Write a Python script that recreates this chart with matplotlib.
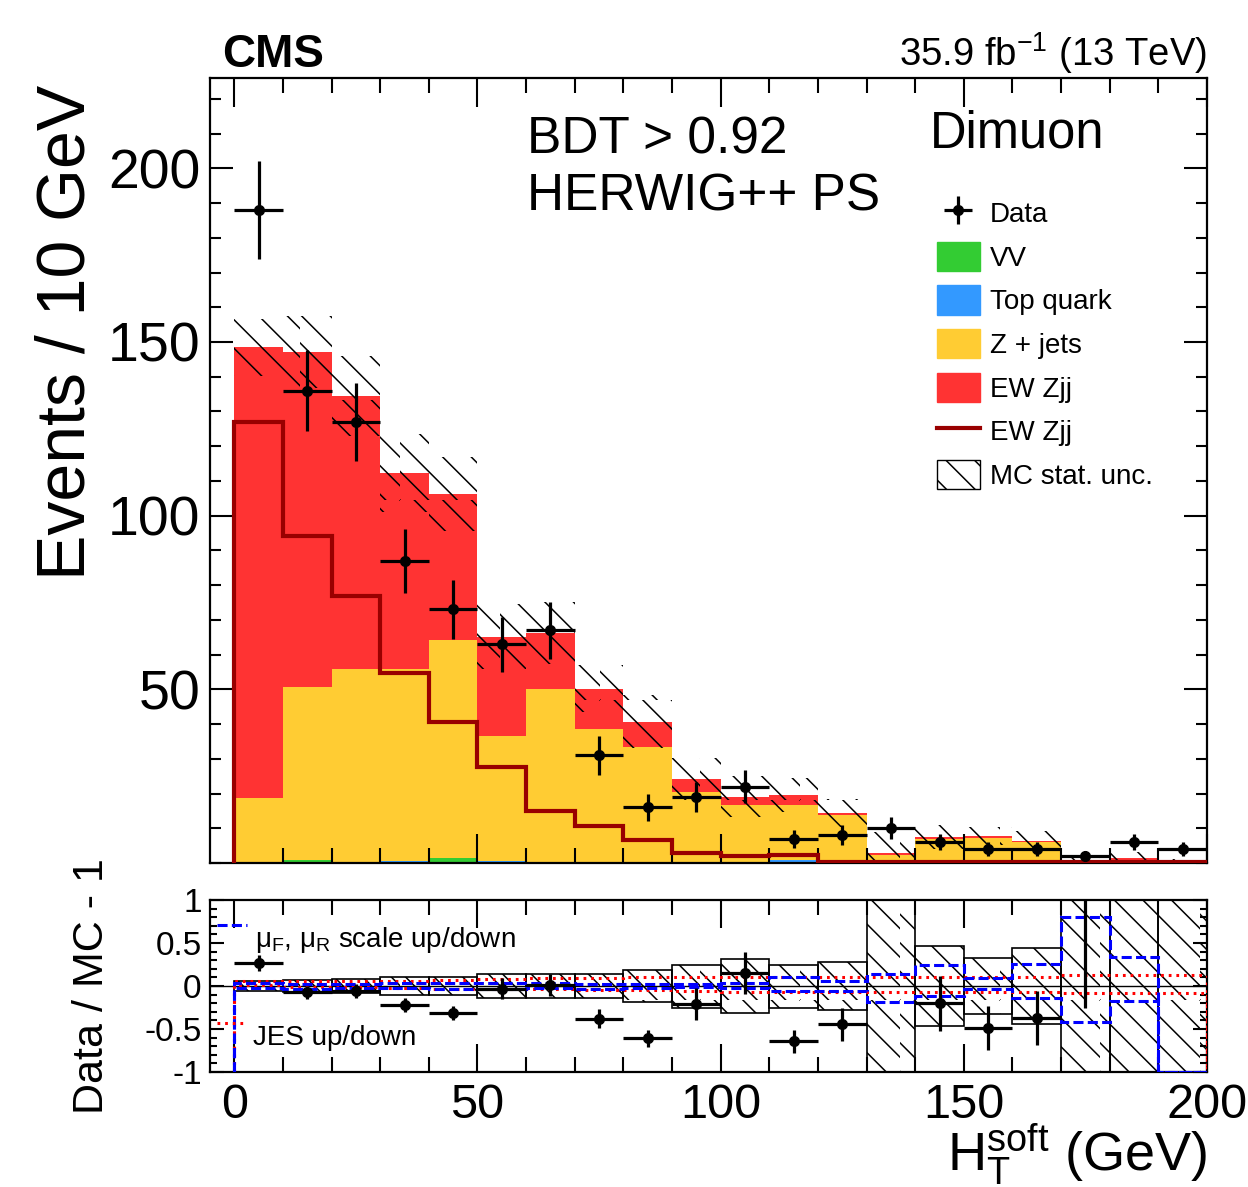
import numpy as np
import matplotlib
matplotlib.use("Agg")
import matplotlib.pyplot as plt
from matplotlib.patches import Patch
from matplotlib.lines import Line2D
from matplotlib.ticker import MultipleLocator
from matplotlib.backend_bases import GraphicsContextBase
from matplotlib import hatch as mhatch

plt.rcParams['font.family'] = ['Liberation Sans', 'DejaVu Sans']
plt.rcParams['mathtext.fontset'] = 'custom'
plt.rcParams['mathtext.rm'] = 'Liberation Sans'
plt.rcParams['mathtext.it'] = 'Liberation Sans:italic'
plt.rcParams['mathtext.bf'] = 'Liberation Sans:bold'
plt.rcParams['hatch.linewidth'] = 1.1


# denser hatch lines (about 14 px apart, like the reference)
def _hatch_path(self, density=7.0):
    h = self.get_hatch()
    if h is None:
        return None
    return mhatch.get_path(h, density)


GraphicsContextBase.get_hatch_path = _hatch_path

# ---------------- data ----------------
bin_edges = [0, 10, 20, 30, 40, 50, 60, 70, 80, 90, 100,
             110, 120, 130, 140, 150, 160, 170, 180, 190, 200]
data = [188, 136, 127, 87, 73, 63, 67, 31, 16, 19, 22, 7, 8, 10, 6, 4, 4, 2, 6, 4]
data_err = [14, 11.6, 11.2, 9.3, 8.5, 7.9, 8.2, 5.6, 4.0, 4.4, 4.7, 2.6, 2.8, 3.2,
            2.4, 2.0, 2.0, 1.4, 2.4, 2.0]
vv = [0.1, 0.8, 0.1, 0.2, 1.3, 0.3, 0.1, 0.1, 0.1, 0.1, 0.1, 0.2, 0.1, 0.1,
      0.1, 0.1, 0.1, 0.0, 0.0, 0.0]
top_quark = [0.0, 0.0, 0.0, 0.3, 0.0, 0.4, 0.1, 0.1, 0.1, 0.1, 0.1, 0.8, 0.1, 0.1,
             0.1, 0.1, 0.8, 0.0, 0.0, 0.0]
zjets = [18.5, 49.8, 55.8, 55.4, 62.9, 35.9, 49.9, 38.5, 33.2, 20.3, 16.6, 15.8,
         13.5, 2.2, 6.8, 7.0, 5.1, 0.5, 1.0, 0.2]
ewzjj = [129.9, 96.5, 78.6, 56.3, 42.1, 28.6, 16.2, 11.4, 7.3, 3.6, 2.3, 2.8,
         0.7, 0.6, 0.5, 0.6, 0.4, 0.3, 0.4, 0.3]
ewzjj_line = [127, 94.2, 76.9, 54.8, 40.6, 27.6, 15.1, 10.6, 6.6, 3.0, 2.0, 2.3,
              0.4, 0.3, 0.3, 0.3, 0.3, 0.2, 0.3, 0.2]
mc_stat_rel = [0.055, 0.07, 0.085, 0.10, 0.10, 0.145, 0.135, 0.135, 0.185, 0.25,
               0.31, 0.25, 0.28, 2.0, 0.47, 0.32, 0.44, 1.1, 1.2, 1.2]
scale_up = [0.03, 0.02, 0.02, 0.03, 0.03, 0.03, 0.04, 0.02, 0.02, 0.02, 0.03, 0.11,
            0.06, 0.14, 0.25, 0.09, 0.26, 0.80, 0.34, -1.0]
scale_dn = [-0.02, -0.03, -0.02, -0.02, -0.03, -0.04, -0.02, -0.03, -0.02, -0.01,
            -0.02, -0.06, -0.06, -0.19, -0.12, -0.03, -0.14, -0.42, -0.17, -1.0]
jes_up = [0.06, 0.06, 0.06, 0.06, 0.07, 0.08, 0.09, 0.09, 0.10, 0.10, 0.10, 0.10,
          0.10, 0.10, 0.10, 0.10, 0.10, 0.13, 0.13, 0.13]
jes_dn = [0.01, -0.01, -0.01, -0.02, -0.03, -0.04, -0.04, -0.05, -0.05, -0.06,
          -0.07, -0.07, -0.07, -0.07, -0.07, -0.07, -0.07, -0.08, -0.08, -0.08]

edges = np.array(bin_edges, dtype=float)
centers = 0.5 * (edges[:-1] + edges[1:])
halfw = 0.5 * (edges[1:] - edges[:-1])

c_vv = '#33cc33'
c_top = '#3399ff'
c_zj = '#ffcc33'
c_ew = '#ff3333'
c_line = '#990000'
ls_scale = (0, (3.3, 1.4))
ls_jes = (0, (0.9, 1.6))

W, H = 1248, 1187
fig = plt.figure(figsize=(W / 100, H / 100), dpi=100)
ax = fig.add_axes([210 / W, 1 - 863 / H, 997 / W, 785 / H])
rax = fig.add_axes([210 / W, 1 - 1072 / H, 997 / W, 172 / H])

# ---------------- stacked histogram ----------------
b0 = np.zeros(len(data))
for vals, col in [(vv, c_vv), (top_quark, c_top), (zjets, c_zj), (ewzjj, c_ew)]:
    v = np.array(vals, dtype=float)
    ax.stairs(b0 + v, edges, baseline=b0.copy(), fill=True, color=col, lw=0, zorder=1)
    b0 = b0 + v
total = b0

# MC stat band (hatched, drawn on top of the stack)
rel = np.array(mc_stat_rel)
lo = np.clip(total * (1 - rel), 0, None)
hi = total * (1 + rel)
ax.bar(centers, hi - lo, width=2 * halfw, bottom=lo, facecolor='none',
       edgecolor='black', linewidth=0, hatch='\\', zorder=3)

ax.stairs(ewzjj_line, edges, baseline=0, color=c_line, lw=3.0, zorder=4)

eb = ax.errorbar(centers, data, yerr=data_err, xerr=halfw, fmt='o', color='black',
                 ms=7, elinewidth=2.3, capsize=0, zorder=5)

ax.set_xlim(-5, 200)
ax.set_ylim(0, 226)

# ---------------- ratio ----------------
ratio = np.array(data) / total - 1
ratio_err = np.array(data_err) / total
rax.bar(centers, 2 * rel, width=2 * halfw, bottom=-rel, facecolor='none',
        edgecolor='black', linewidth=1.2, hatch='\\', zorder=2)
rax.axhline(0, color='black', lw=1.0, zorder=3)
rax.stairs(jes_up, edges, baseline=-1, color='red', lw=2.2, ls=ls_jes, zorder=4)
rax.stairs(jes_dn, edges, baseline=-1, color='red', lw=2.2, ls=ls_jes, zorder=4)
rax.stairs(scale_up, edges, baseline=-1, color='blue', lw=2.2, ls=ls_scale, zorder=4)
rax.stairs(scale_dn, edges, baseline=-1, color='blue', lw=2.2, ls=ls_scale, zorder=4)
rax.errorbar(centers, ratio, yerr=ratio_err, xerr=halfw, fmt='o', color='black',
             ms=7, elinewidth=2.3, capsize=0, zorder=5)
rax.set_xlim(-5, 200)
rax.set_ylim(-1, 1)

# ---------------- axes styling ----------------
for a in (ax, rax):
    for s in a.spines.values():
        s.set_linewidth(1.6)
    a.xaxis.set_major_locator(MultipleLocator(50))
    a.xaxis.set_minor_locator(MultipleLocator(10))
    a.tick_params(which='both', direction='in', top=True, right=True, width=1.5)

ax.yaxis.set_major_locator(MultipleLocator(50))
ax.yaxis.set_minor_locator(MultipleLocator(10))
ax.set_yticks([50, 100, 150, 200])
ax.tick_params(axis='x', which='major', length=21)
ax.tick_params(axis='x', which='minor', length=10.5)
ax.tick_params(axis='y', which='major', length=16.5, labelsize=40, pad=7)
ax.tick_params(axis='y', which='minor', length=8)
ax.tick_params(axis='x', labelbottom=False)

rax.yaxis.set_major_locator(MultipleLocator(0.5))
rax.yaxis.set_minor_locator(MultipleLocator(0.1))
rax.set_yticks([-1, -0.5, 0, 0.5, 1])
rax.set_yticklabels(['-1', '-0.5', '0', '0.5', '1'])
rax.tick_params(axis='x', which='major', length=20, labelsize=35, pad=8)
rax.tick_params(axis='x', which='minor', length=10.5)
rax.tick_params(axis='y', which='major', length=10, labelsize=24, pad=6)
rax.tick_params(axis='y', which='minor', length=5)

ax.set_ylabel('Events / 10 GeV', fontsize=49, loc='top')
ax.yaxis.set_label_coords(-0.112, 0.991)
rax.set_ylabel('Data / MC - 1', fontsize=31)
rax.yaxis.set_label_coords(-0.098, 0.5)
rax.set_xlabel(r'$\mathrm{H}_{\mathrm{T}}^{\mathrm{soft}}$ (GeV)', fontsize=39, loc='right')
rax.xaxis.set_label_coords(1.0, -0.29)

# ---------------- texts ----------------
ax.text(0.012, 1.014, 'CMS', transform=ax.transAxes, fontsize=33,
        fontweight='bold', ha='left', va='baseline')
ax.text(1.0, 1.015, r'35.9 fb$^{\mathrm{-1}}$ (13 TeV)', transform=ax.transAxes,
        fontsize=27.5, ha='right', va='baseline')
ax.text(0.318, 0.904, 'BDT > 0.92', transform=ax.transAxes, fontsize=37,
        ha='left', va='baseline')
ax.text(0.318, 0.8306, 'HERWIG++ PS', transform=ax.transAxes, fontsize=37,
        ha='left', va='baseline')
ax.text(0.722, 0.911, 'Dimuon', transform=ax.transAxes, fontsize=36.5,
        ha='left', va='baseline')

handles = [eb,
           Patch(facecolor=c_vv, edgecolor=c_vv),
           Patch(facecolor=c_top, edgecolor=c_top),
           Patch(facecolor=c_zj, edgecolor=c_zj),
           Patch(facecolor=c_ew, edgecolor=c_ew),
           Line2D([], [], color=c_line, lw=3.0),
           Patch(facecolor='white', edgecolor='black', hatch='\\', lw=1.0)]
labels = ['Data', 'VV', 'Top quark', 'Z + jets', 'EW Zjj', 'EW Zjj', 'MC stat. unc.']
ax.legend(handles, labels, loc='upper left', bbox_to_anchor=(0.729, 0.847),
          frameon=False, fontsize=20, handlelength=1.55, handleheight=1.25,
          labelspacing=0.49, handletextpad=0.36, borderpad=0, borderaxespad=0)

# ratio-panel legend keys
rax.plot([0.007, 0.037], [0.855, 0.855], transform=rax.transAxes, color='blue',
         lw=2.2, ls=ls_scale, clip_on=False, zorder=6)
rax.text(0.045, 0.727, r'$\mathrm{\mu}_{\mathrm{F}}$, $\mathrm{\mu}_{\mathrm{R}}$ scale up/down',
         transform=rax.transAxes, fontsize=20, ha='left', va='baseline', zorder=6)
rax.plot([0.007, 0.037], [0.285, 0.285], transform=rax.transAxes, color='red',
         lw=2.2, ls=ls_jes, clip_on=False, zorder=6)
rax.text(0.043, 0.157, 'JES up/down', transform=rax.transAxes, fontsize=20,
         ha='left', va='baseline', zorder=6)

fig.savefig('out.png', dpi=100)
